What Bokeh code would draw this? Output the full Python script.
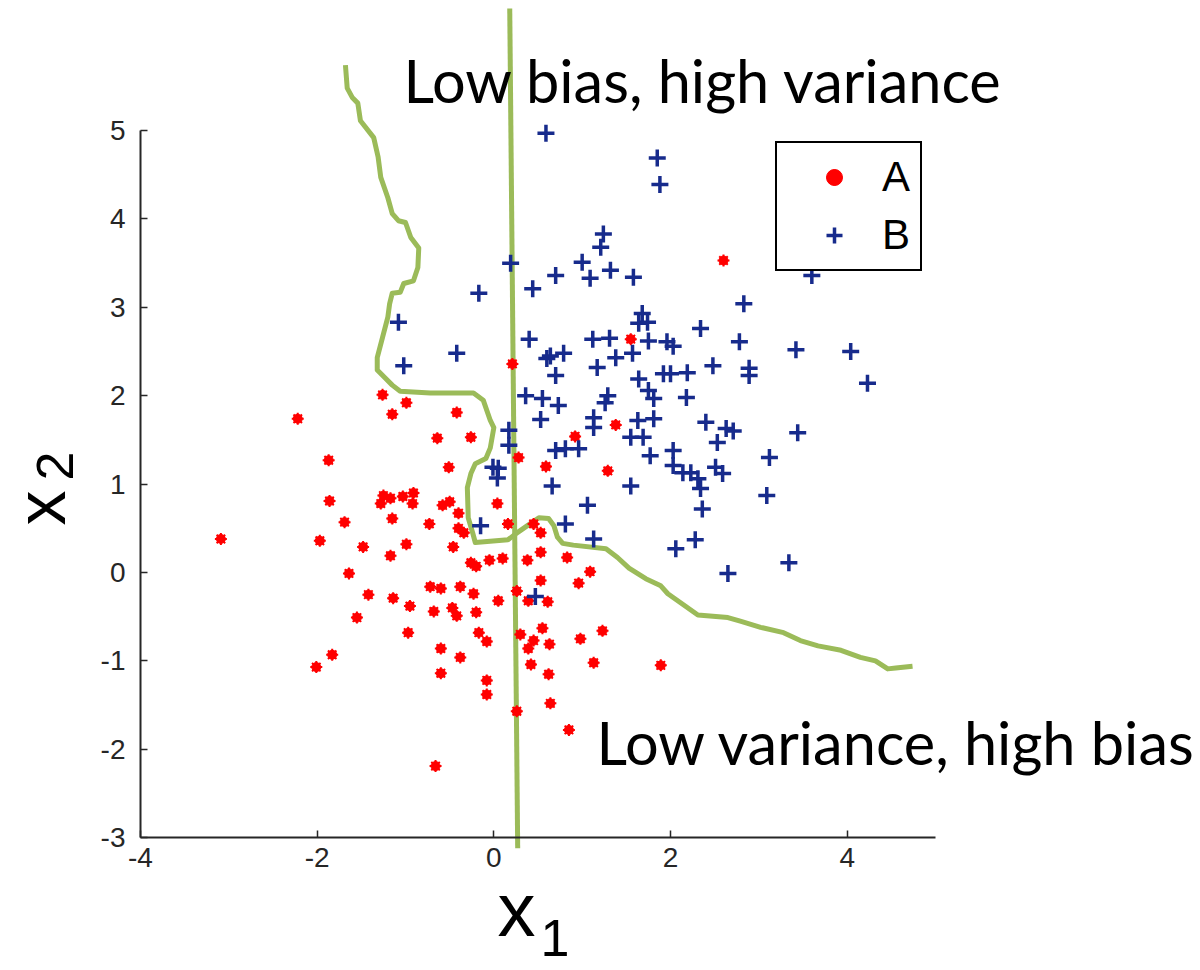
from bokeh.plotting import figure
from bokeh.models import Range1d, FixedTicker, Legend, LegendItem
from bokeh.core.properties import value
from bokeh.embed import file_html
from bokeh.resources import INLINE
import math

# ---------------- data ----------------
a_x = [2.60, 1.55, 0.21, 1.38, -0.42, -0.64, -0.26, -0.51, 0.28, 0.92, 0.59, 1.29,
       0.04, -0.58, -0.50, -0.40, -0.73, -0.40, -0.34, 0.16, 0.45, 0.53, -0.46, -0.26,
       -0.20, -0.05, 0.10, 0.38, 0.53, 0.83, -1.26, -0.99, -1.15, -2.22, -1.87, -1.86,
       -1.25, -1.28, -1.17, -1.03, -0.91, -0.92, -1.15, -1.69, -3.09, -1.97, -1.48, -0.99,
       -1.17, -1.64, -1.42, -1.14, -0.95, -0.72, -0.68, -1.55, -0.97, -1.83, -2.01, -0.66,
       1.09, 0.53, 0.96, -0.60, -0.38, -0.23, 0.26, 0.05, 0.39, 0.61, -0.47, -0.42,
       -0.20, 0.55, 0.30, -0.17, -0.08, 0.45, 0.39, 0.63, 0.98, 1.23, -0.60, -0.38,
       -0.60, 0.42, 0.62, 1.13, 1.89, -0.08, -0.08, 0.64, 0.26, 0.85]
a_y = [3.53, 2.64, 2.36, 1.67, 1.81, 1.52, 1.53, 1.19, 1.30, 1.54, 1.20, 1.15,
       0.78, 0.76, 0.80, 0.67, 0.55, 0.50, 0.45, 0.55, 0.55, 0.45, 0.29, 0.11,
       0.07, 0.14, 0.16, 0.14, 0.23, 0.17, 2.01, 1.92, 1.79, 1.74, 1.27, 0.81,
       0.87, 0.78, 0.84, 0.86, 0.90, 0.78, 0.61, 0.57, 0.38, 0.36, 0.29, 0.32,
       0.19, -0.01, -0.25, -0.29, -0.38, -0.16, -0.44, -0.51, -0.68, -0.93, -1.07, -2.19,
       0.01, -0.09, -0.12, -0.18, -0.16, -0.24, -0.21, -0.32, -0.32, -0.33, -0.40, -0.49,
       -0.45, -0.63, -0.70, -0.68, -0.78, -0.77, -0.86, -0.81, -0.75, -0.66, -0.86, -0.96,
       -1.14, -1.04, -1.15, -1.02, -1.05, -1.22, -1.38, -1.48, -1.57, -1.78]

b_x = [0.59, 1.85, 1.88, 1.24, 1.21, 1.00, 1.32, 1.09, 1.58, 0.70, 0.44, 0.19,
       -0.17, 1.68, 1.64, 1.74, 0.40, 1.12, 1.31, 1.75, -1.08, 3.60, 2.83, 2.34,
       1.96, 2.03, 2.78, 3.42, 4.04, 1.92, 2.00, 2.19, 2.48, 2.89, 2.89, 4.23,
       2.18, 2.40, 2.63, 2.71, 3.44, 2.53, 2.03, 3.12, 2.03, 2.14, 2.23, 2.31,
       2.51, 2.59, 2.34, 3.09, 2.36, 2.28, 2.06, 3.34, 2.65, -0.42, 0.60, 0.64,
       0.79, 0.70, 1.17, 1.38, 1.57, 1.64, 0.36, 0.55, 0.73, 1.29, 1.26, 1.75,
       1.81, 0.53, 1.13, 1.13, 1.63, 1.81, 1.55, 1.69, 0.17, 0.17, 0.70, 0.81,
       0.96, 1.77, -0.01, 0.05, 0.04, 0.66, 1.55, 1.06, -0.15, 0.81, 1.13, -1.02,
       0.47]
b_y = [4.97, 4.69, 4.39, 3.83, 3.68, 3.51, 3.42, 3.33, 3.34, 3.36, 3.21, 3.50,
       3.16, 2.93, 2.82, 2.83, 2.64, 2.64, 2.65, 2.62, 2.83, 3.36, 3.04, 2.76,
       2.61, 2.56, 2.61, 2.52, 2.50, 2.25, 2.25, 2.26, 2.34, 2.31, 2.23, 2.14,
       1.98, 1.70, 1.63, 1.60, 1.58, 1.47, 1.38, 1.30, 1.21, 1.13, 1.13, 1.06,
       1.19, 1.12, 0.95, 0.87, 0.72, 0.37, 0.27, 0.11, -0.01, 2.48, 2.42, 2.45,
       2.48, 2.23, 2.32, 2.43, 2.48, 2.19, 2.00, 1.97, 1.89, 2.00, 1.92, 2.06,
       1.97, 1.73, 1.75, 1.64, 1.72, 1.74, 1.53, 1.53, 1.61, 1.44, 1.38, 1.40,
       1.40, 1.32, 1.19, 1.18, 1.07, 0.98, 0.98, 0.76, 0.53, 0.55, 0.38, 2.34,
       -0.27]

# complex (low bias, high variance) boundary
curve_x = [-1.68, -1.66, -1.60, -1.54, -1.51, -1.36, -1.31, -1.28, -1.20, -1.15, -1.08, -1.00,
           -0.94, -0.85, -0.86, -0.91, -1.02, -1.06, -1.15, -1.18, -1.20, -1.26, -1.32, -1.32,
           -1.23, -1.15, -1.06, -0.72, -0.23, -0.12, -0.04, 0.00, -0.04, -0.09, -0.21, -0.26,
           -0.30, -0.29, -0.24, -0.21, 0.16, 0.25, 0.38, 0.51, 0.62, 0.68, 0.72, 0.78,
           0.90, 1.27, 1.40, 1.53, 1.72, 1.89, 1.97, 2.11, 2.31, 2.65, 2.79, 3.02,
           3.28, 3.47, 3.67, 3.93, 4.15, 4.32, 4.46, 4.55, 4.74]
curve_y = [5.74, 5.48, 5.37, 5.31, 5.11, 4.92, 4.70, 4.47, 4.24, 4.06, 3.98, 3.96,
           3.79, 3.67, 3.45, 3.30, 3.27, 3.17, 3.16, 3.04, 2.89, 2.66, 2.43, 2.29,
           2.20, 2.12, 2.05, 2.03, 2.03, 1.95, 1.72, 1.64, 1.41, 1.29, 1.23, 1.12,
           0.96, 0.62, 0.45, 0.34, 0.37, 0.44, 0.53, 0.62, 0.61, 0.53, 0.40, 0.33,
           0.31, 0.27, 0.17, 0.05, -0.07, -0.15, -0.24, -0.34, -0.48, -0.51, -0.55, -0.62,
           -0.68, -0.77, -0.83, -0.88, -0.96, -1.00, -1.09, -1.08, -1.06]

# simple (low variance, high bias) boundary
line_x = [0.18, 0.27]
line_y = [6.38, -3.12]

x_ticks = [-4, -2, 0, 2, 4]
y_ticks = [-3, -2, -1, 0, 1, 2, 3, 4, 5]
series_names = ["A", "B"]

# ---------------- figure ----------------
p = figure(width=1200, height=970,
           x_range=Range1d(-5.585, 8.0), y_range=Range1d(-4.502, 6.471),
           output_backend="svg", toolbar_location=None, min_border=0)
p.outline_line_color = None
p.grid.visible = False
p.background_fill_color = "white"
p.border_fill_color = "white"

p.xaxis.fixed_location = -3
p.xaxis.bounds = (-4, 5)
p.xaxis.ticker = FixedTicker(ticks=x_ticks)
p.xaxis.major_label_overrides = {t: str(t) for t in x_ticks}
p.yaxis.fixed_location = -4
p.yaxis.bounds = (-3, 5)
p.yaxis.ticker = FixedTicker(ticks=y_ticks)
p.yaxis.major_label_overrides = {t: str(t) for t in y_ticks}

tick_font = "'Liberation Sans Narrow', 'Liberation Sans', sans-serif"
for ax in (p.xaxis[0], p.yaxis[0]):
    ax.major_tick_in = 7
    ax.major_tick_out = 0
    ax.minor_tick_line_color = None
    ax.axis_line_width = 2
    ax.axis_line_color = "#262626"
    ax.major_tick_line_color = "#262626"
    ax.major_tick_line_width = 1.5
    ax.major_label_text_font = tick_font
    ax.major_label_text_font_size = "28px"
    ax.major_label_text_color = "#262626"
p.xaxis[0].major_label_standoff = 10
p.yaxis[0].major_label_standoff = 15

green = "#9bbb59"
p.line(curve_x, curve_y, line_color=green, line_width=5, line_join="round")
p.line(line_x, line_y, line_color=green, line_width=5)

ra1 = p.scatter(a_x, a_y, marker="circle", size=9, fill_color="#ff0000", line_color="#ff0000", line_width=1)
ra2 = p.scatter(a_x, a_y, marker="asterisk", size=12, line_color="#ff0000", line_width=2)
rb = p.scatter(b_x, b_y, marker="cross", size=17, line_color="#172b8c", line_width=3.5)

# annotations
p.text(x=[-1.022], y=[5.577], text=["Low bias, high variance"], text_font=value("Lato"),
       text_font_size="59.5px", text_color="black", text_baseline="alphabetic", text_align="left")
p.text(x=[1.163], y=[-1.912], text=["Low variance, high bias"], text_font=value("Lato"),
       text_font_size="59.5px", text_color="black", text_baseline="alphabetic", text_align="left")

# axis labels (x with subscripts)
p.text(x=[0.042], y=[-3.812], text=["x"], text_font=value("Liberation Sans"),
       text_font_size="76px", text_color="black", text_baseline="alphabetic")
p.text(x=[0.529], y=[-4.14], text=["1"], text_font=value("Liberation Sans"),
       text_font_size="52px", text_color="black", text_baseline="alphabetic")
p.text(x=[-5.125], y=[0.532], text=["x"], text_font=value("Liberation Sans"),
       text_font_size="70px", text_color="black", text_baseline="alphabetic", angle=math.pi / 2)
p.text(x=[-4.97], y=[1.04], text=["2"], text_font=value("Liberation Sans"),
       text_font_size="52px", text_color="black", text_baseline="alphabetic", angle=math.pi / 2)

legend = Legend(items=[LegendItem(label=series_names[0], renderers=[ra1, ra2]),
                       LegendItem(label=series_names[1], renderers=[rb])],
                location=(775, 699))
legend.label_text_font = "Liberation Sans"
legend.label_text_font_size = "42px"
legend.label_text_color = "black"
legend.glyph_width = 94
legend.glyph_height = 40
legend.label_standoff = 1
legend.padding = 10
legend.spacing = 10
legend.margin = 0
legend.border_line_color = "black"
legend.border_line_alpha = 1
legend.border_line_width = 2
legend.background_fill_alpha = 1
p.add_layout(legend)

open("out.html", "w").write(file_html(p, INLINE))
